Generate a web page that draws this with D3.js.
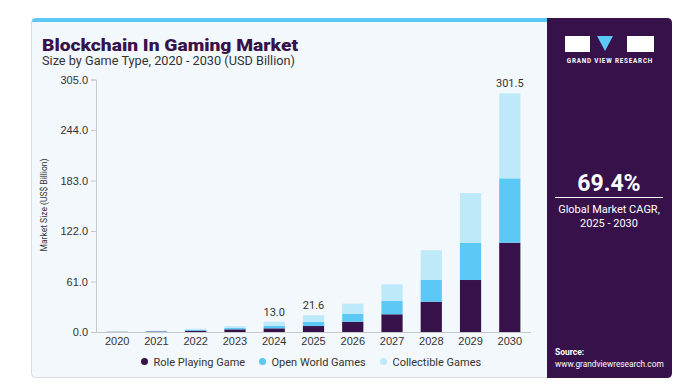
<!DOCTYPE html>
<html>
<head>
<meta charset="utf-8">
<script src="https://cdn.jsdelivr.net/npm/d3@7"></script>
<style>
  body { margin: 0; background: #fff; }
  svg { display: block; font-family: Roboto, "Liberation Sans", sans-serif; }
  .tick text { fill: #333; font-size: 11px; }
</style>
</head>
<body>
<svg width="699" height="387"></svg>
<script>
// **** data ****
var years = ['2020', '2021', '2022', '2023', '2024', '2025', '2026', '2027', '2028', '2029', '2030']
var rolePlaying = [0.2, 0.6, 1.6, 3.2, 4.4, 7.2, 12.4, 21.4, 36.6, 62.8, 107.9]
var openWorld = [0.2, 0.4, 1.0, 1.6, 3.2, 5.2, 9.7, 16.0, 26.6, 45.1, 77.7]
var collectible = [0.2, 0.5, 1.3, 2.3, 4.7, 7.9, 12.1, 20.2, 35.5, 60.0, 102.7]
var seriesNames = ['Role Playing Game', 'Open World Games', 'Collectible Games']
var yTicks = [0, 61, 122, 183, 244, 305]
var totalLabels = [{ year: '2024', text: '13.0' }, { year: '2025', text: '21.6' }, { year: '2030', text: '301.5' }]

var colors = ['#37114a', '#5bc8f5', '#bde9f9']

var svg = d3.select('svg')

// **** card and side panel ****
svg.append('rect')
    .attr('x', 31.5).attr('y', 18.5).attr('width', 630).attr('height', 359)
    .attr('rx', 4)
    .attr('fill', '#f3f8fc').attr('stroke', '#d6dbe0')

svg.append('path')
    .attr('d', 'M31.5,24 Q31.5,18 36,18 L548,18 L548,22 L31.5,22 Z')
    .attr('fill', '#5bc8f5')

svg.append('path')
    .attr('d', 'M547,18 L667,18 Q672,18 672,23 L672,373 Q672,378 667,378 L547,378 Z')
    .attr('fill', '#37114a')

// logo
svg.append('rect').attr('x', 565).attr('y', 36).attr('width', 25).attr('height', 16).attr('fill', '#fff')
svg.append('path').attr('d', 'M597,36 L613,36 L605,51 Z').attr('fill', '#5bc8f5')
svg.append('rect').attr('x', 627).attr('y', 36).attr('width', 27).attr('height', 16).attr('fill', '#fff')
svg.append('text')
    .attr('x', 610).attr('y', 62.5)
    .attr('text-anchor', 'middle')
    .attr('fill', '#fff').attr('font-size', '6.3px').attr('font-weight', 'bold')
    .attr('letter-spacing', '0.8')
    .text('GRAND VIEW RESEARCH')

svg.append('text')
    .attr('x', 609).attr('y', 191)
    .attr('text-anchor', 'middle')
    .attr('fill', '#fff').attr('font-size', '23px').attr('font-weight', 'bold')
    .text('69.4%')
svg.append('line')
    .attr('x1', 555).attr('x2', 663).attr('y1', 197.5).attr('y2', 197.5)
    .attr('stroke', '#fff').attr('stroke-width', 1.2)
svg.append('text')
    .attr('x', 609).attr('y', 213)
    .attr('text-anchor', 'middle')
    .attr('fill', '#fff').attr('font-size', '11px')
    .text('Global Market CAGR,')
svg.append('text')
    .attr('x', 609).attr('y', 227)
    .attr('text-anchor', 'middle')
    .attr('fill', '#fff').attr('font-size', '11px')
    .text('2025 - 2030')

svg.append('text')
    .attr('x', 555).attr('y', 355)
    .attr('fill', '#fff').attr('font-size', '8.5px').attr('font-weight', 'bold')
    .text('Source:')
svg.append('text')
    .attr('x', 555).attr('y', 366.5)
    .attr('fill', '#fff').attr('font-size', '8.3px')
    .text('www.grandviewresearch.com')

// **** titles ****
svg.append('text')
    .attr('x', 42).attr('y', 50.5)
    .attr('fill', '#37114a').attr('font-size', '17px').attr('font-weight', 900)
    .attr('textLength', 256).attr('lengthAdjust', 'spacingAndGlyphs')
    .text('Blockchain In Gaming Market')
svg.append('text')
    .attr('x', 42).attr('y', 64.5)
    .attr('fill', '#333').attr('font-size', '12px')
    .attr('textLength', 253).attr('lengthAdjust', 'spacingAndGlyphs')
    .text('Size by Game Type, 2020 - 2030 (USD Billion)')

// **** scales, axes ****
var xScale = d3.scaleBand()
    .domain(years).range([96, 531])
    .paddingInner(0.46).paddingOuter(0.27)

var yScale = d3.scaleLinear()
    .domain([0, 305]).range([332, 79.5])

var yAxis = svg.append('g')
    .attr('transform', 'translate(96,0)')
    .call(d3.axisLeft(yScale).tickValues(yTicks).tickFormat(d3.format('.1f')).tickSize(5).tickPadding(3))
yAxis.select('.domain').attr('stroke', '#c8c8c8')
yAxis.selectAll('.tick line').attr('stroke', '#c8c8c8')

var xAxis = svg.append('g')
    .attr('transform', 'translate(0,332)')
    .call(d3.axisBottom(xScale).tickSize(0).tickPadding(5))
xAxis.select('.domain').attr('stroke', '#c8c8c8').attr('d', 'M96,0.5H531')

svg.append('text')
    .attr('transform', 'translate(47,205) rotate(-90)')
    .attr('text-anchor', 'middle')
    .attr('fill', '#333').attr('font-size', '8.5px')
    .text('Market Size (US$ Billion)')

// **** stacked bars ****
var rows = years.map(function(y, i) {
    return { year: y, rpg: rolePlaying[i], ow: openWorld[i], col: collectible[i] }
})
var stack = d3.stack().keys(['rpg', 'ow', 'col'])(rows)

svg.append('g')
    .selectAll('g')
    .data(stack)
    .enter()
    .append('g')
    .attr('fill', function(d, i) { return colors[i] })
    .selectAll('rect')
    .data(function(d) { return d })
    .enter()
    .append('rect')
    .attr('x', function(d) { return xScale(d.data.year) })
    .attr('width', xScale.bandwidth())
    .attr('y', function(d) { return yScale(d[1]) })
    .attr('height', function(d) { return yScale(d[0]) - yScale(d[1]) })

var totals = {}
rows.forEach(function(r) { totals[r.year] = r.rpg + r.ow + r.col })

svg.append('g')
    .selectAll('text')
    .data(totalLabels)
    .enter()
    .append('text')
    .attr('x', function(d) { return xScale(d.year) + xScale.bandwidth() / 2 })
    .attr('y', function(d) { return yScale(totals[d.year]) - 6 })
    .attr('text-anchor', 'middle')
    .attr('fill', '#333').attr('font-size', '11px')
    .text(function(d) { return d.text })

// **** legend ****
var legendX = [144.5, 262.5, 383.5]
var legend = svg.append('g')
    .selectAll('g')
    .data(seriesNames)
    .enter()
    .append('g')
    .attr('transform', function(d, i) { return 'translate(' + legendX[i] + ',361.5)' })
legend.append('circle')
    .attr('r', 3.5)
    .attr('fill', function(d, i) { return colors[i] })
legend.append('text')
    .attr('x', 9).attr('y', 4)
    .attr('fill', '#333').attr('font-size', '11px')
    .text(function(d) { return d })
</script>
</body>
</html>
